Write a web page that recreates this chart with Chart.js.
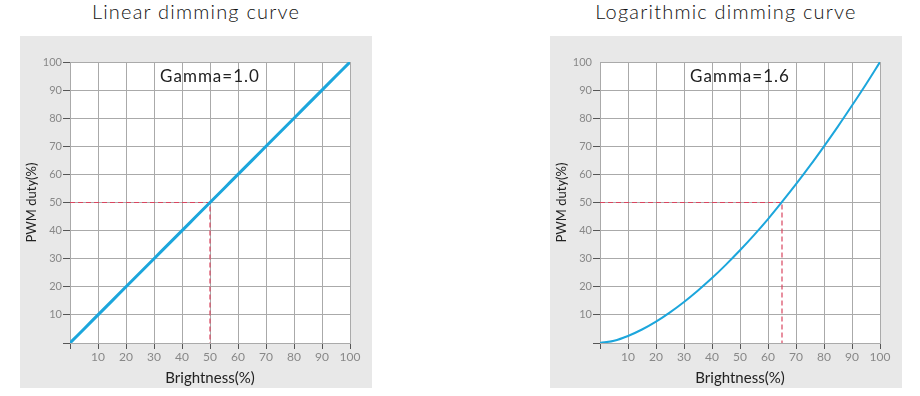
<!DOCTYPE html>
<html lang="en">
<head>
  <meta charset="UTF-8">
  <title>Dimming curves</title>
  <script src="https://cdn.jsdelivr.net/npm/chart.js"></script>
  <style>
    body {
      margin: 0;
      background: #ffffff;
      width: 920px;
      height: 396px;
      position: relative;
      overflow: hidden;
      font-family: 'Lato', sans-serif;
    }
    .title {
      position: absolute;
      top: -1px;
      width: 352px;
      text-align: center;
      font-size: 20px;
      font-weight: 300;
      letter-spacing: 1.2px;
      color: #111;
    }
    .panel {
      position: absolute;
      top: 36px;
      width: 352px;
      height: 352px;
      background: #e8e8e8;
    }
  </style>
</head>
<body>

  <div class="title" style="left:20px">Linear dimming curve</div>
  <div class="title" style="left:550px">Logarithmic dimming curve</div>

  <div class="panel" style="left:20px"><canvas id="linearChart"></canvas></div>
  <div class="panel" style="left:550px"><canvas id="logChart"></canvas></div>

  <script>
    const brightness = [0, 5, 10, 15, 20, 25, 30, 35, 40, 45, 50, 55, 60, 65, 70, 75, 80, 85, 90, 95, 100];
    const linearDuty = [0, 5, 10, 15, 20, 25, 30, 35, 40, 45, 50, 55, 60, 65, 70, 75, 80, 85, 90, 95, 100];
    const logDuty = [0, 0.8, 2.5, 4.8, 7.6, 10.9, 14.6, 18.7, 23.1, 27.9, 33, 38.4, 44.1, 50.2, 56.5, 63.1, 70, 77.1, 84.5, 92.1, 100];

    // red guide: 50% duty
    const guideDuty = 50;
    const linearGuideX = 50;
    const logGuideX = 65;

    const lineColor = '#1ca6dc';
    const guideColor = '#d9455f';

    const plotBackground = {
      id: 'plotBackground',
      beforeDraw(chart) {
        const a = chart.chartArea;
        chart.ctx.save();
        chart.ctx.fillStyle = '#ffffff';
        chart.ctx.fillRect(a.left, a.top, a.right - a.left, a.bottom - a.top);
        chart.ctx.restore();
      }
    };

    const gammaLabel = {
      id: 'gammaLabel',
      afterDraw(chart, args, opts) {
        const c = chart.ctx;
        c.save();
        c.font = '400 17px Lato';
        c.fillStyle = '#222';
        c.textAlign = 'center';
        c.textBaseline = 'middle';
        if ('letterSpacing' in c) c.letterSpacing = '1px';
        const x = chart.scales.x.getPixelForValue(50);
        const y = chart.scales.y.getPixelForValue(94.7);
        c.fillText(opts.text, x, y);
        c.restore();
      }
    };

    function makeChart(id, duty, guideX, gammaText, lineWidth, hideTopTick) {
      const points = brightness.map((b, i) => ({ x: b, y: duty[i] }));
      new Chart(document.getElementById(id), {
        type: 'line',
        data: {
          datasets: [
            {
              data: points,
              borderColor: lineColor,
              borderWidth: lineWidth,
              pointRadius: 0,
              cubicInterpolationMode: 'monotone'
            },
            {
              data: [{ x: 0, y: guideDuty }, { x: guideX, y: guideDuty }, { x: guideX, y: 0 }],
              borderColor: guideColor,
              borderWidth: 1.2,
              borderDash: [5, 3],
              pointRadius: 0
            }
          ]
        },
        plugins: [plotBackground, gammaLabel],
        options: {
          responsive: true,
          maintainAspectRatio: false,
          animation: false,
          layout: { padding: { left: 0, top: 26, right: 22, bottom: 0 } },
          plugins: {
            legend: { display: false },
            tooltip: { enabled: false },
            gammaLabel: { text: gammaText }
          },
          scales: {
            x: {
              type: 'linear',
              min: 0,
              max: 100,
              afterFit: s => { s.height = 45; },
              grid: {
                color: '#aaaaaa',
                tickColor: '#555',
                tickLength: 6
              },
              border: { color: '#aaaaaa' },
              ticks: {
                stepSize: 10,
                padding: 1,
                color: '#888',
                font: { family: 'Lato', size: 12 },
                callback: v => v === 0 ? '' : v
              },
              title: {
                display: true,
                text: 'Brightness(%)',
                color: '#222',
                font: { family: 'Lato', size: 15 },
                padding: { top: 0, bottom: 1 }
              }
            },
            y: {
              min: 0,
              max: 100,
              afterFit: s => { s.width = 50; },
              grid: {
                color: '#aaaaaa',
                tickColor: c => (hideTopTick && c.tick && c.tick.value === 100) ? 'rgba(0,0,0,0)' : '#555',
                tickLength: 7
              },
              border: { color: '#aaaaaa' },
              ticks: {
                stepSize: 10,
                padding: 1,
                color: '#888',
                font: { family: 'Lato', size: 11 },
                callback: v => v === 0 ? '' : v
              },
              title: {
                display: true,
                text: 'PWM duty(%)',
                color: '#222',
                font: { family: 'Lato', size: 13 },
                padding: { top: 4, bottom: 0 }
              }
            }
          }
        }
      });
    }

    makeChart('linearChart', linearDuty, linearGuideX, 'Gamma=1.0', 3, false);
    makeChart('logChart', logDuty, logGuideX, 'Gamma=1.6', 2, true);
  </script>

</body>
</html>
